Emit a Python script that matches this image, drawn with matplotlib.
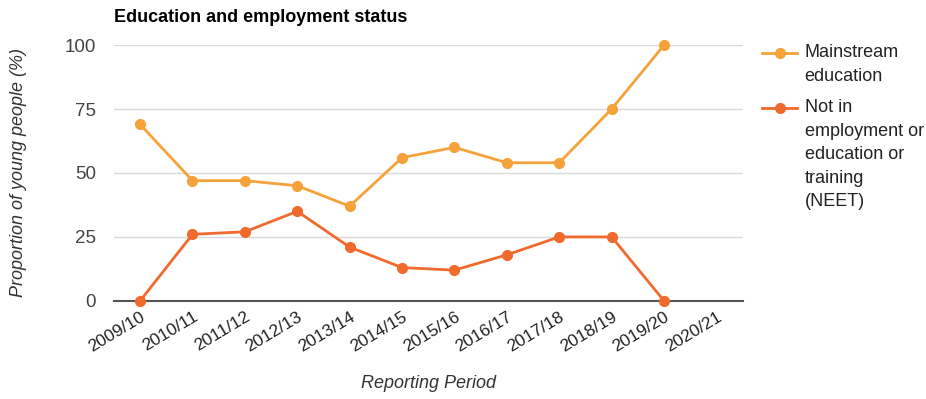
import numpy as np
import matplotlib.pyplot as plt
from matplotlib.lines import Line2D

plt.rcParams['font.family'] = ['Liberation Sans', 'DejaVu Sans']

periods = ["2009/10", "2010/11", "2011/12", "2012/13", "2013/14", "2014/15",
           "2015/16", "2016/17", "2017/18", "2018/19", "2019/20", "2020/21"]
mainstream = [69, 47, 47, 45, 37, 56, 60, 54, 54, 75, 100, np.nan]
neet = [0, 26, 27, 35, 21, 13, 12, 18, 25, 25, 0, np.nan]
yticks = [0, 25, 50, 75, 100]
labels = ["Mainstream\neducation",
          "Not in\nemployment or\neducation or\ntraining\n(NEET)"]

c_main = "#F5A23A"
c_neet = "#EF6A2C"

fig = plt.figure(figsize=(9.26, 3.99), dpi=100)
ax = fig.add_axes([0.123, 0.246, 0.679, 0.641])

x = np.arange(len(periods))
lines = []
for vals, col in [(mainstream, c_main), (neet, c_neet)]:
    ln, = ax.plot(x, vals, color=col, lw=2, marker="o", ms=7,
                  clip_on=False, zorder=3)
    lines.append(ln)

ax.set_xlim(-0.5, len(periods) - 0.5)
ax.set_ylim(0, 100)
ax.set_yticks(yticks)
ax.set_yticklabels([str(v) for v in yticks], fontsize=13.5, color="#444444")
ax.set_xticks(x)
ax.set_xticklabels(periods, rotation=31, ha="right", rotation_mode="anchor",
                   fontsize=12.5, color="#222222")
ax.tick_params(axis="y", length=0, pad=13)
ax.tick_params(axis="x", length=0, pad=6)
ax.grid(axis="y", color="#d9d9d9", lw=1)
ax.set_axisbelow(True)
for s in ["top", "right", "left"]:
    ax.spines[s].set_visible(False)
ax.spines["bottom"].set_color("#555555")
ax.spines["bottom"].set_linewidth(1.5)

ax.set_ylabel("Proportion of young people (%)", fontsize=13, style="italic",
              color="#333333")
ax.yaxis.set_label_coords(-0.138, 0.5)
ax.set_xlabel("Reporting Period", fontsize=13, style="italic",
              color="#333333")
ax.xaxis.set_label_coords(0.5, -0.29)
fig.text(0.123, 0.955, "Education and employment status", fontsize=13,
         fontweight="bold", va="center", ha="left")

# legend drawn by hand so the key sits on the first line of each label
ytop = [0.867, 0.729]
for ln, lab, y in zip(lines, labels, ytop):
    fig.add_artist(Line2D([0.823, 0.861], [y, y], color=ln.get_color(), lw=2,
                          transform=fig.transFigure))
    fig.add_artist(Line2D([0.842], [y], color=ln.get_color(), marker="o",
                          ms=7, transform=fig.transFigure))
    fig.text(0.869, y + 0.022, lab, fontsize=13, va="top", ha="left",
             color="#222222", linespacing=1.5)

fig.savefig("out.png", dpi=100)
